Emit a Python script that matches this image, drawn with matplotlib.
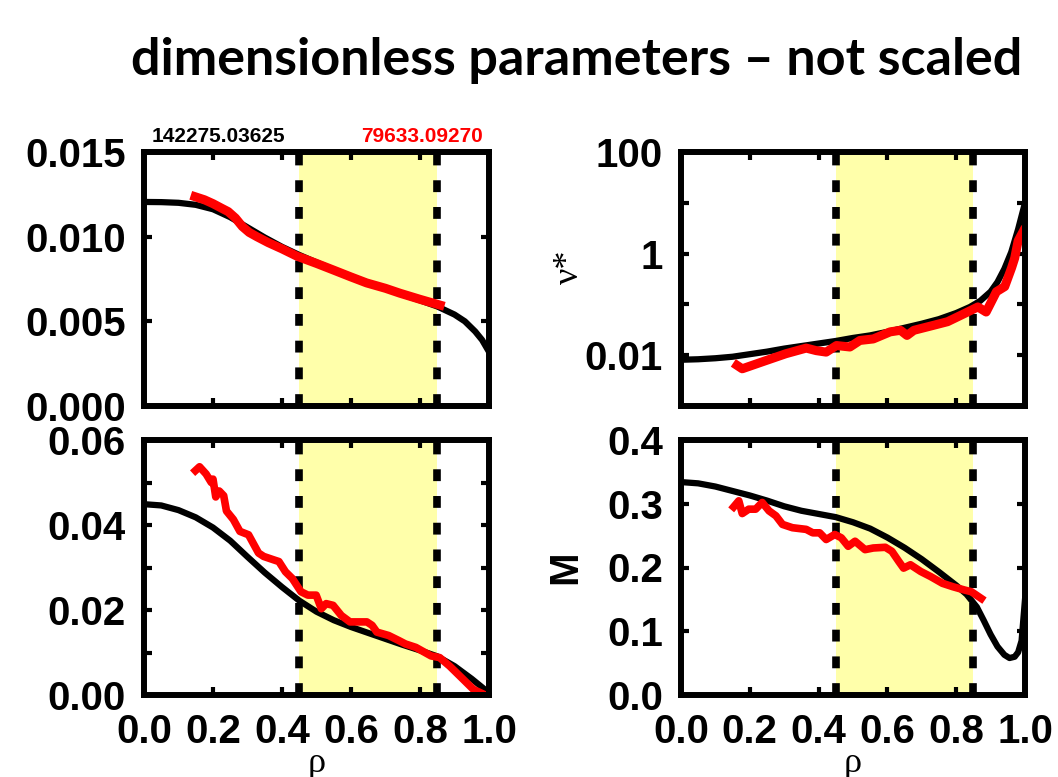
import matplotlib
matplotlib.use('Agg')
import matplotlib.pyplot as plt
import numpy as np
from matplotlib.ticker import FixedLocator, NullLocator

plt.rcParams['font.family'] = ['Liberation Sans', 'DejaVu Sans']

# edges of the shaded radial window
rho_lo, rho_hi = 0.45, 0.85

# rho* (top left)
rhos_x_mod = [0.0, 0.05, 0.1, 0.15, 0.2, 0.25, 0.3, 0.35, 0.4, 0.45, 0.5, 0.55, 0.6, 0.65, 0.7, 0.75,
              0.8, 0.85, 0.9, 0.93, 0.96, 0.98, 1.0]
rhos_y_mod = [0.01205, 0.01204, 0.01200, 0.01188, 0.01162, 0.01115, 0.01055, 0.00995, 0.00940, 0.00892,
              0.00848, 0.00805, 0.00765, 0.00727, 0.00692, 0.00658, 0.00624, 0.00588, 0.00540, 0.00500,
              0.00440, 0.00390, 0.00320]
rhos_x_exp = [0.148, 0.175, 0.20, 0.225, 0.244, 0.265, 0.285, 0.305, 0.327, 0.36, 0.40, 0.443, 0.5, 0.549,
              0.6, 0.645, 0.7, 0.742, 0.8, 0.858]
rhos_y_exp = [0.01236, 0.01218, 0.01195, 0.01168, 0.01148, 0.0111, 0.0106, 0.01025, 0.0100, 0.00965,
              0.00928, 0.00885, 0.00842, 0.00803, 0.00762, 0.00727, 0.00695, 0.00666, 0.0063, 0.00596]

# nu* (top right, log)
nu_x_mod = [0.0, 0.05, 0.1, 0.15, 0.2, 0.25, 0.3, 0.35, 0.4, 0.45, 0.5, 0.55, 0.6, 0.65, 0.7, 0.75, 0.8,
            0.84, 0.87, 0.9, 0.92, 0.94, 0.96, 0.98, 1.0]
nu_y_mod = [0.00813, 0.00832, 0.00871, 0.00933, 0.01047, 0.01175, 0.01349, 0.01514, 0.01698, 0.01905,
            0.02188, 0.02455, 0.02884, 0.03467, 0.04169, 0.05129, 0.0676, 0.0891, 0.1175, 0.1778,
            0.2754, 0.501, 1.07, 3.02, 10.0]
nu_x_exp = [0.163, 0.178, 0.246, 0.305, 0.364, 0.393, 0.422, 0.452, 0.491, 0.520, 0.559, 0.608, 0.638,
            0.657, 0.677, 0.735, 0.775, 0.824, 0.863, 0.887, 0.917, 0.941, 0.961, 0.970, 0.980, 0.995]
nu_y_exp = [0.0063, 0.0054, 0.0078, 0.0107, 0.0138, 0.0123, 0.0115, 0.0155, 0.0145, 0.0195, 0.0209,
            0.0288, 0.0309, 0.0245, 0.0309, 0.0389, 0.0457, 0.0661, 0.0891, 0.0708, 0.178, 0.224,
            0.525, 0.813, 1.78, 2.75]

# beta (bottom left)
beta_x_mod = [0.0, 0.05, 0.1, 0.15, 0.2, 0.25, 0.3, 0.35, 0.4, 0.45, 0.5, 0.55, 0.6, 0.65, 0.7, 0.75,
              0.8, 0.85, 0.9, 0.95, 1.0]
beta_y_mod = [0.0449, 0.0446, 0.0435, 0.0418, 0.0394, 0.0363, 0.0325, 0.0288, 0.0254, 0.0222, 0.0196,
              0.0176, 0.0160, 0.0146, 0.0132, 0.0118, 0.0105, 0.0091, 0.0068, 0.0038, 0.0005]
beta_x_exp = [0.149, 0.161, 0.180, 0.195, 0.200, 0.208, 0.218, 0.231, 0.239, 0.259, 0.278, 0.303, 0.332,
              0.347, 0.376, 0.391, 0.410, 0.430, 0.455, 0.475, 0.499, 0.514, 0.528, 0.548, 0.572, 0.597,
              0.621, 0.646, 0.661, 0.675, 0.709, 0.739, 0.758, 0.788, 0.832, 0.857, 0.886, 0.925, 0.955,
              0.984]
beta_y_exp = [0.0528, 0.0537, 0.0520, 0.0500, 0.0508, 0.0466, 0.0480, 0.0469, 0.0433, 0.0413, 0.0385,
              0.0377, 0.0334, 0.0326, 0.0318, 0.0314, 0.0290, 0.0274, 0.0243, 0.0235, 0.0235, 0.0203,
              0.0215, 0.0211, 0.0187, 0.0172, 0.0172, 0.0172, 0.0164, 0.0148, 0.0140, 0.0128, 0.0120,
              0.0112, 0.0092, 0.0088, 0.0068, 0.0037, 0.0013, 0.0002]

# Mach number (bottom right)
mach_x_mod = [0.0, 0.05, 0.1, 0.15, 0.2, 0.25, 0.3, 0.35, 0.4, 0.45, 0.5, 0.55, 0.6, 0.65, 0.7, 0.75,
              0.8, 0.83, 0.86, 0.88, 0.9, 0.92, 0.94, 0.955, 0.97, 0.98, 0.99, 1.0]
mach_y_mod = [0.334, 0.332, 0.327, 0.320, 0.313, 0.305, 0.296, 0.289, 0.284, 0.279, 0.271, 0.261, 0.247,
              0.231, 0.213, 0.193, 0.172, 0.158, 0.138, 0.117, 0.095, 0.076, 0.063, 0.058, 0.060, 0.067,
              0.085, 0.15]
mach_x_exp = [0.153, 0.168, 0.178, 0.197, 0.217, 0.236, 0.256, 0.276, 0.295, 0.324, 0.364, 0.383, 0.403,
              0.422, 0.447, 0.466, 0.486, 0.506, 0.535, 0.559, 0.594, 0.613, 0.633, 0.647, 0.667, 0.697,
              0.726, 0.760, 0.790, 0.824, 0.844, 0.873]
mach_y_exp = [0.295, 0.3046, 0.2846, 0.2915, 0.2915, 0.302, 0.2888, 0.281, 0.2676, 0.2624, 0.2598, 0.2544,
              0.2544, 0.2439, 0.2518, 0.2466, 0.2333, 0.2412, 0.228, 0.2306, 0.2317, 0.2254, 0.2096, 0.199,
              0.2043, 0.1937, 0.1857, 0.1752, 0.1699, 0.1647, 0.162, 0.1514]

label_mod = '142275.03625'
label_exp = '79633.09270'
xtick_vals = [0, 0.2, 0.4, 0.6, 0.8, 1.0]
xtick_text = ['0.0', '0.2', '0.4', '0.6', '0.8', '1.0']

W, H = 1058, 777
fig = plt.figure(figsize=(W / 100, H / 100), dpi=100)


def box(l, t, r, b):
    # pixel box -> figure fraction rectangle
    return [l / W, 1 - b / H, (r - l) / W, (b - t) / H]


ax_tl = fig.add_axes(box(144, 152, 489, 406))
ax_tr = fig.add_axes(box(681, 152, 1025, 406))
ax_bl = fig.add_axes(box(144, 440, 489, 695))
ax_br = fig.add_axes(box(681, 440, 1025, 695))

for ax in (ax_tl, ax_tr, ax_bl, ax_br):
    ax.axvspan(rho_lo, rho_hi, color='#ffffaa', lw=0, zorder=0)
    for xv in (rho_lo, rho_hi):
        ax.axvline(xv, color='black', lw=5.5, ls=(0, (1.55, 1.95)), zorder=1)
    ax.set_xlim(0, 1)
    ax.set_xticks(xtick_vals)
    for s in ax.spines.values():
        s.set_linewidth(4.3)
        s.set_zorder(5)
    ax.tick_params(which='both', direction='in', top=True, right=True, length=6, width=3,
                   pad=13, labelsize=29)

# rho*
ax_tl.plot(rhos_x_mod, rhos_y_mod, color='black', lw=4.5, zorder=3)
ax_tl.plot(rhos_x_exp, rhos_y_exp, color='red', lw=6.5, zorder=4)
ax_tl.set_ylim(0, 0.015)
ax_tl.set_yticks([0, 0.005, 0.010, 0.015])
ax_tl.set_yticklabels(['0.000', '0.005', '0.010', '0.015'], fontweight='bold')
ax_tl.tick_params(labelbottom=False)
ax_tl.text(0.023, 1.039, label_mod, transform=ax_tl.transAxes, fontsize=15, fontweight='bold',
           color='black', ha='left', va='baseline')
ax_tl.text(0.983, 1.039, label_exp, transform=ax_tl.transAxes, fontsize=15, fontweight='bold',
           color='red', ha='right', va='baseline')

# nu*
ax_tr.plot(nu_x_mod, nu_y_mod, color='black', lw=4.5, zorder=3)
ax_tr.plot(nu_x_exp, nu_y_exp, color='red', lw=6.5, zorder=4)
ax_tr.set_yscale('log')
ax_tr.set_ylim(1e-3, 100)
ax_tr.yaxis.set_major_locator(FixedLocator([1e-3, 1e-2, 1e-1, 1, 10, 100]))
ax_tr.yaxis.set_minor_locator(NullLocator())
ax_tr.set_yticklabels(['', '0.01', '', '1', '', '100'], fontweight='bold')
ax_tr.tick_params(labelbottom=False)
ax_tr.text(-0.323, 0.547, 'ν*', transform=ax_tr.transAxes, rotation=90, fontsize=26,
           family=['Liberation Serif', 'DejaVu Serif'], ha='center', va='center')

# beta
ax_bl.plot(beta_x_mod, beta_y_mod, color='black', lw=4.5, zorder=3)
ax_bl.plot(beta_x_exp, beta_y_exp, color='red', lw=5.5, zorder=4)
ax_bl.set_ylim(0, 0.06)
ax_bl.set_yticks([0, 0.02, 0.04, 0.06])
ax_bl.set_yticklabels(['0.00', '0.02', '0.04', '0.06'], fontweight='bold')
ax_bl.yaxis.set_minor_locator(FixedLocator([0.01, 0.03, 0.05]))
ax_bl.set_xticklabels(xtick_text, fontweight='bold')

# Mach
ax_br.plot(mach_x_mod, mach_y_mod, color='black', lw=4.5, zorder=3)
ax_br.plot(mach_x_exp, mach_y_exp, color='red', lw=5.5, zorder=4)
ax_br.set_ylim(0, 0.4)
ax_br.set_yticks([0, 0.1, 0.2, 0.3, 0.4])
ax_br.set_yticklabels(['0.0', '0.1', '0.2', '0.3', '0.4'], fontweight='bold')
ax_br.set_xticklabels(xtick_text, fontweight='bold')
ax_br.text(-0.337, 0.502, 'M', transform=ax_br.transAxes, rotation=90, fontsize=29,
           fontweight='bold', ha='center', va='center')

for ax in (ax_bl, ax_br):
    ax.text(0.5, -0.30, 'ρ', transform=ax.transAxes, fontsize=26,
            family=['Liberation Serif', 'DejaVu Serif'], ha='center', va='baseline')

fig.text(0.545, 1 - 75 / H, 'dimensionless parameters – not scaled', fontsize=37.5,
         fontweight='bold', family=['Lato', 'DejaVu Sans'], ha='center', va='baseline')

fig.savefig('out.png', dpi=100)
